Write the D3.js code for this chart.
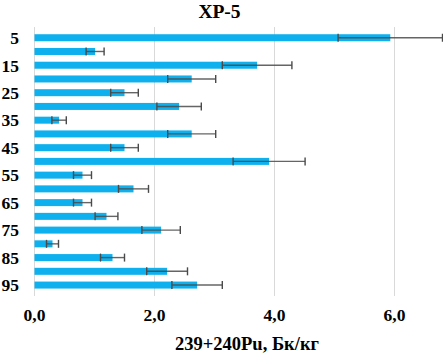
<!DOCTYPE html>
<html><head><meta charset="utf-8">
<script src="https://cdn.jsdelivr.net/npm/d3@7"></script>
<style>body{margin:0;background:#fff}svg{display:block}</style>
</head><body>
<script>
const depths = [5,10,15,20,25,30,35,40,45,50,55,60,65,70,75,80,85,90,95];
const values = [5.93,1.01,3.71,2.62,1.50,2.41,0.41,2.62,1.50,3.91,0.80,1.65,0.80,1.20,2.11,0.30,1.30,2.21,2.71];
const errors = [0.87,0.15,0.58,0.40,0.23,0.37,0.12,0.40,0.23,0.60,0.15,0.25,0.15,0.19,0.32,0.10,0.20,0.34,0.42];
const xTicks = [0,2,4,6];
const yLabels = [5,15,25,35,45,55,65,75,85,95];

const W=443,H=354;
const svg=d3.select("body").append("svg").attr("width",W).attr("height",H);
const x=d3.scaleLinear().domain([0,7]).range([34.5,454.5]);
const y=d3.scaleBand().domain(depths).range([30.8,292]).paddingInner(0.49).paddingOuter(0.25);

svg.append("defs").append("clipPath").attr("id","c").append("rect").attr("x",0).attr("y",0).attr("width",W).attr("height",H);
const g=svg.append("g").attr("clip-path","url(#c)");

g.selectAll("line.grid").data(xTicks).join("line").attr("class","grid")
 .attr("x1",d=>x(d)).attr("x2",d=>x(d)).attr("y1",27).attr("y2",296)
 .attr("stroke","#d9d9d9").attr("stroke-width",1);

g.selectAll("rect.bar").data(depths).join("rect").attr("class","bar")
 .attr("x",x(0)).attr("y",d=>y(d)).attr("height",y.bandwidth())
 .attr("width",(d,i)=>x(values[i])-x(0)).attr("fill","#0fb0ee");

const eb=g.selectAll("g.eb").data(depths).join("g").attr("class","eb")
 .attr("transform",d=>`translate(0,${y(d)+y.bandwidth()/2})`);
eb.append("line").attr("x1",(d,i)=>x(values[i]-errors[i])).attr("x2",(d,i)=>x(values[i]+errors[i]))
 .attr("stroke","#4a4a4a").attr("stroke-width",1.4).attr("stroke-opacity",0.85);
eb.append("line").attr("x1",(d,i)=>x(values[i]-errors[i])).attr("x2",(d,i)=>x(values[i]-errors[i]))
 .attr("y1",-4).attr("y2",4).attr("stroke","#4a4a4a").attr("stroke-width",1.4);
eb.append("line").attr("x1",(d,i)=>x(values[i]+errors[i])).attr("x2",(d,i)=>x(values[i]+errors[i]))
 .attr("y1",-4).attr("y2",4).attr("stroke","#4a4a4a").attr("stroke-width",1.4);

const font="'Liberation Serif','Times New Roman',serif";
svg.selectAll("text.yl").data(yLabels).join("text").attr("class","yl")
 .attr("x",19).attr("y",d=>y(d)+y.bandwidth()/2).attr("dy","0.36em")
 .attr("text-anchor","end").attr("font-family",font).attr("font-weight","bold").attr("font-size",17.5)
 .text(d=>d);

svg.selectAll("text.xl").data(xTicks).join("text").attr("class","xl")
 .attr("x",d=>x(d)).attr("y",321).attr("text-anchor","middle")
 .attr("font-family",font).attr("font-weight","bold").attr("font-size",17.5)
 .text(d=>d3.format(".1f")(d).replace(".",","));

svg.append("text").attr("x",247).attr("y",350).attr("text-anchor","middle")
 .attr("font-family",font).attr("font-weight","bold").attr("font-size",18.5)
 .text("239+240Pu, Бк/кг");

svg.append("text").attr("x",219.5).attr("y",18).attr("text-anchor","middle")
 .attr("font-family",font).attr("font-weight","bold").attr("font-size",19.5)
 .text("ХР-5");
</script>
</body></html>
